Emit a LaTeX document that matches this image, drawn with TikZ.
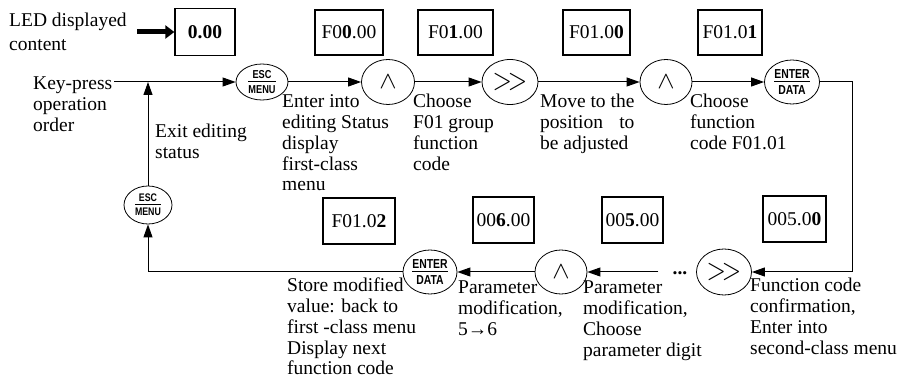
\documentclass[tikz,border=0pt]{standalone}
\usepackage{fontspec}
\setmainfont{Liberation Serif}
\newfontfamily\keyfont[FakeStretch=0.8]{Liberation Sans}
\usetikzlibrary{shapes.geometric,arrows.meta}
\newlength\mvw
\newcommand\mainsz{\fontsize{19.5}{20.8}\selectfont}
\newcommand\keylbl[3]{{\keyfont\bfseries\fontsize{#3}{#3}\selectfont\setlength\arrayrulewidth{0.9pt}\renewcommand\arraystretch{0}\setlength\tabcolsep{0pt}\begin{tabular}{c}\rule[-2pt]{0pt}{2pt}#1\\\hline\rule{0pt}{#3pt}#2\end{tabular}}}
\newcommand\upsym{\scalebox{2.6}[2.4]{$\wedge$}}
\newcommand\shsym{\scalebox{2.5}[3]{$>\mkern-3mu>$}}
\tikzset{
  lbl/.style={anchor=north west, inner sep=0pt, align=left, font=\mainsz},
  disp/.style={draw, line width=1.3pt, minimum height=46pt, inner sep=0pt, font=\mainsz},
  key/.style={draw, ellipse, line width=0.8pt, inner sep=0pt},
  arr/.style={line width=1pt, -{Triangle[length=13pt,width=9pt]}},
  bigarr/.style={line width=5pt, -{Triangle[length=9pt,width=13pt]}},
}
\begin{document}
\begin{tikzpicture}[x=1pt,y=-1pt]
\useasboundingbox (0,0) rectangle (903,379);

% legend
\node[lbl, font=\fontsize{19.5}{24}\selectfont] (led) at (9,10) {\strut LED displayed\\content};
\coordinate (ledarr) at (137,32);
\node[disp, font=\mainsz\bfseries, minimum width=60pt, minimum height=47pt] (b0) at (205,32) {0.00};
\draw[bigarr] (ledarr) -- (ledarr -| b0.west);

% top row
\node[lbl] (kp) at (33,75) {\strut Key-press\\operation\\order};
\coordinate (kpend) at (114,82);
\node[key, minimum width=52pt, minimum height=36pt] (esc1) at (262,82) {\keylbl{ESC}{MENU}{11.5}};
\node[key, minimum width=53pt, minimum height=45pt] (up1) at (388,82) {\upsym};
\node[key, minimum width=56pt, minimum height=45pt] (sh1) at (510,82) {\shsym};
\node[key, minimum width=52pt, minimum height=45pt] (up2) at (666,82) {\upsym};
\node[key, minimum width=55pt, minimum height=44pt] (ent1) at (792,82) {\keylbl{ENTER}{DATA}{13}};

\node[disp, minimum width=68pt, minimum height=45pt] (bA) at (349,32.5) {F0\textbf{0}.00};
\node[disp, minimum width=75pt, minimum height=45pt] (bB) at (455.5,32.5) {F0\textbf{1}.00};
\node[disp, minimum width=67pt, minimum height=45pt] (bC) at (596.5,32.5) {F01.0\textbf{0}};
\node[disp, minimum width=64pt, minimum height=45pt] (bD) at (730,32.5) {F01.0\textbf{1}};

\node[lbl] (tEnter) at (282,93) {\strut Enter into\\editing Status\\display\\first-class\\menu};
\node[lbl] (tChoose) at (413,93) {\strut Choose\\F01 group\\function\\code};
\node[lbl] (tMove) at (540,93) {\strut Move to the\\\settowidth\mvw{Move to the}\makebox[\mvw][s]{position to}\\be adjusted};
\node[lbl] (tFunc) at (690,93) {\strut Choose\\function\\code F01.01};

% bottom row
\node[key, minimum width=48pt, minimum height=38pt] (esc2) at (148,205) {\keylbl{ESC}{MENU}{11}};
\node[key, minimum width=54pt, minimum height=44pt] (ent2) at (430,272) {\keylbl{ENTER}{DATA}{13}};
\node[key, minimum width=52pt, minimum height=44pt] (up3) at (561,272) {\upsym};
\node[inner sep=0pt, anchor=base, font=\mainsz\bfseries] (dots) at (680,275) {...};
\node[key, minimum width=55pt, minimum height=46pt] (sh2) at (724,272) {\shsym};
\coordinate (rc) at (852,272);

\node[disp, minimum width=72pt] (bE) at (359,221) {F01.0\textbf{2}};
\node[disp, minimum width=61pt] (bF) at (503.5,220) {00\textbf{6}.00};
\node[disp, minimum width=61pt] (bG) at (632.5,220) {00\textbf{5}.00};
\node[disp, minimum width=63pt] (bH) at (794.5,219) {005.0\textbf{0}};

\node[lbl] (tExit) at (155,123) {\strut Exit editing\\status};
\node[lbl] (tStore) at (287,277) {\strut Store modified\\value: back to\\first -class menu\\Display next\\function code};
\node[lbl] (tPar1) at (458,279) {\strut Parameter\\modification,\\5→6};
\node[lbl] (tPar2) at (583,279) {\strut Parameter\\modification,\\Choose\\parameter digit};
\node[lbl] (tConf) at (750,277) {\strut Function code\\confirmation,\\Enter into\\second-class menu};

% connectors
\draw[arr] (kpend) -- (esc1.west);
\draw[arr] (esc1.east) -- (up1.west);
\draw[arr] (up1.east) -- (sh1.west);
\draw[arr] (sh1.east) -- (up2.west);
\draw[arr] (up2.east) -- (ent1.west);
\draw[arr] (ent1.east) -| (rc) -- (sh2.east);
\draw[arr] ([xshift=-14pt]dots.west |- up3.east) -- (up3.east);
\draw[arr] (up3.west) -- (ent2.east);
\draw[arr] (ent2.west) -| (esc2.south);
\draw[arr] (esc2.north) -- (esc2.north |- kpend);
\end{tikzpicture}
\end{document}
